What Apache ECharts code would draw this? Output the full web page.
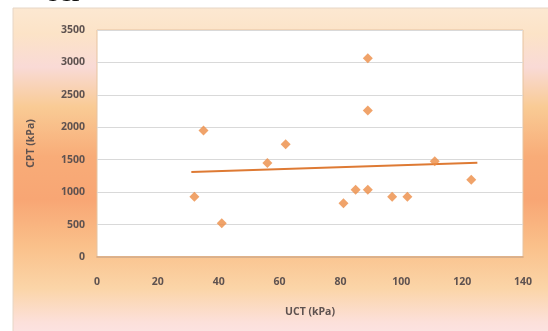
<!DOCTYPE html>
<html>
<head>
<meta charset="utf-8">
<script src="https://cdn.jsdelivr.net/npm/echarts@6/dist/echarts.min.js"></script>
<style>
html,body{margin:0;padding:0;background:#fff;}
#c{width:548px;height:331px;}
</style>
</head>
<body>
<div id="c"></div>
<script>
// Data
var uctValues = [32, 35, 41, 56, 62, 81, 85, 89, 89, 89, 97, 102, 111, 123];
var cptValues = [930, 1950, 520, 1450, 1740, 830, 1035, 1035, 2260, 3065, 930, 930, 1475, 1190];
var trendX = [31, 125];
var trendY = [1310, 1455];
var xTicks = [0, 20, 40, 60, 80, 100, 120, 140];
var yTicks = [0, 500, 1000, 1500, 2000, 2500, 3000, 3500];
var xTitle = 'UCT (kPa)';
var yTitle = 'CPT (kPa)';

var points = uctValues.map(function (x, i) { return [x, cptValues[i]]; });
var trend = trendX.map(function (x, i) { return [x, trendY[i]]; });

var chart = echarts.init(document.getElementById('c'), null, {renderer: 'canvas'});
var labelStyle = {color: '#5e5250', fontSize: 10.5, fontWeight: 'bold', fontFamily: 'Open Sans'};
chart.setOption({
  animation: false,
  backgroundColor: '#fff',
  graphic: [
    {
      type: 'rect', z: -10, silent: true,
      shape: {x: 13, y: 8, width: 540, height: 330},
      style: {
        fill: new echarts.graphic.LinearGradient(0, 0, 0, 1, [
          {offset: 0, color: '#FCE8D2'},
          {offset: 0.08, color: '#FCE3C7'},
          {offset: 0.18, color: '#F9DAD6'},
          {offset: 0.3, color: '#F9CB95'},
          {offset: 0.45, color: '#F8AC78'},
          {offset: 0.58, color: '#F8A674'},
          {offset: 0.72, color: '#FAC08A'},
          {offset: 0.85, color: '#FBD5A8'},
          {offset: 0.95, color: '#FCE0DA'},
          {offset: 1, color: '#FCE4E6'}
        ]),
        stroke: '#E6D6C6', lineWidth: 1
      }
    },
    {
      type: 'text', silent: true, left: 45, top: -22,
      style: {text: 'ecr', font: '30px "Liberation Serif"', fill: '#111'}
    }
  ],
  grid: {
    left: 97, top: 30, right: 25, bottom: 74,
    show: true, backgroundColor: '#fff', borderColor: '#E6C3A0', borderWidth: 1
  },
  xAxis: {
    type: 'value', min: xTicks[0], max: xTicks[xTicks.length - 1], interval: xTicks[1] - xTicks[0],
    name: xTitle, nameLocation: 'middle', nameGap: 50,
    nameTextStyle: labelStyle,
    axisLine: {show: true, onZero: false, lineStyle: {color: '#D9A373', width: 1.5}},
    axisTick: {show: false},
    splitLine: {show: false},
    axisLabel: Object.assign({margin: 20, formatter: function (v) { return String(v); }}, labelStyle)
  },
  yAxis: {
    type: 'value', min: yTicks[0], max: yTicks[yTicks.length - 1], interval: yTicks[1] - yTicks[0],
    name: yTitle, nameLocation: 'middle', nameGap: 60, nameRotate: 90,
    nameTextStyle: labelStyle,
    axisLine: {show: false},
    axisTick: {show: false},
    splitLine: {show: true, lineStyle: {color: '#D9D9D9', width: 1}},
    axisLabel: Object.assign({margin: 12, formatter: function (v) { return String(v); }}, labelStyle)
  },
  series: [
    {
      type: 'scatter', data: points, symbol: 'diamond', symbolSize: 10,
      itemStyle: {color: '#EC8C45'}, z: 3
    },
    {
      type: 'line', data: trend, showSymbol: false, symbol: 'none',
      lineStyle: {color: '#DE7A34', width: 2}, z: 2
    }
  ]
});
</script>
</body>
</html>
